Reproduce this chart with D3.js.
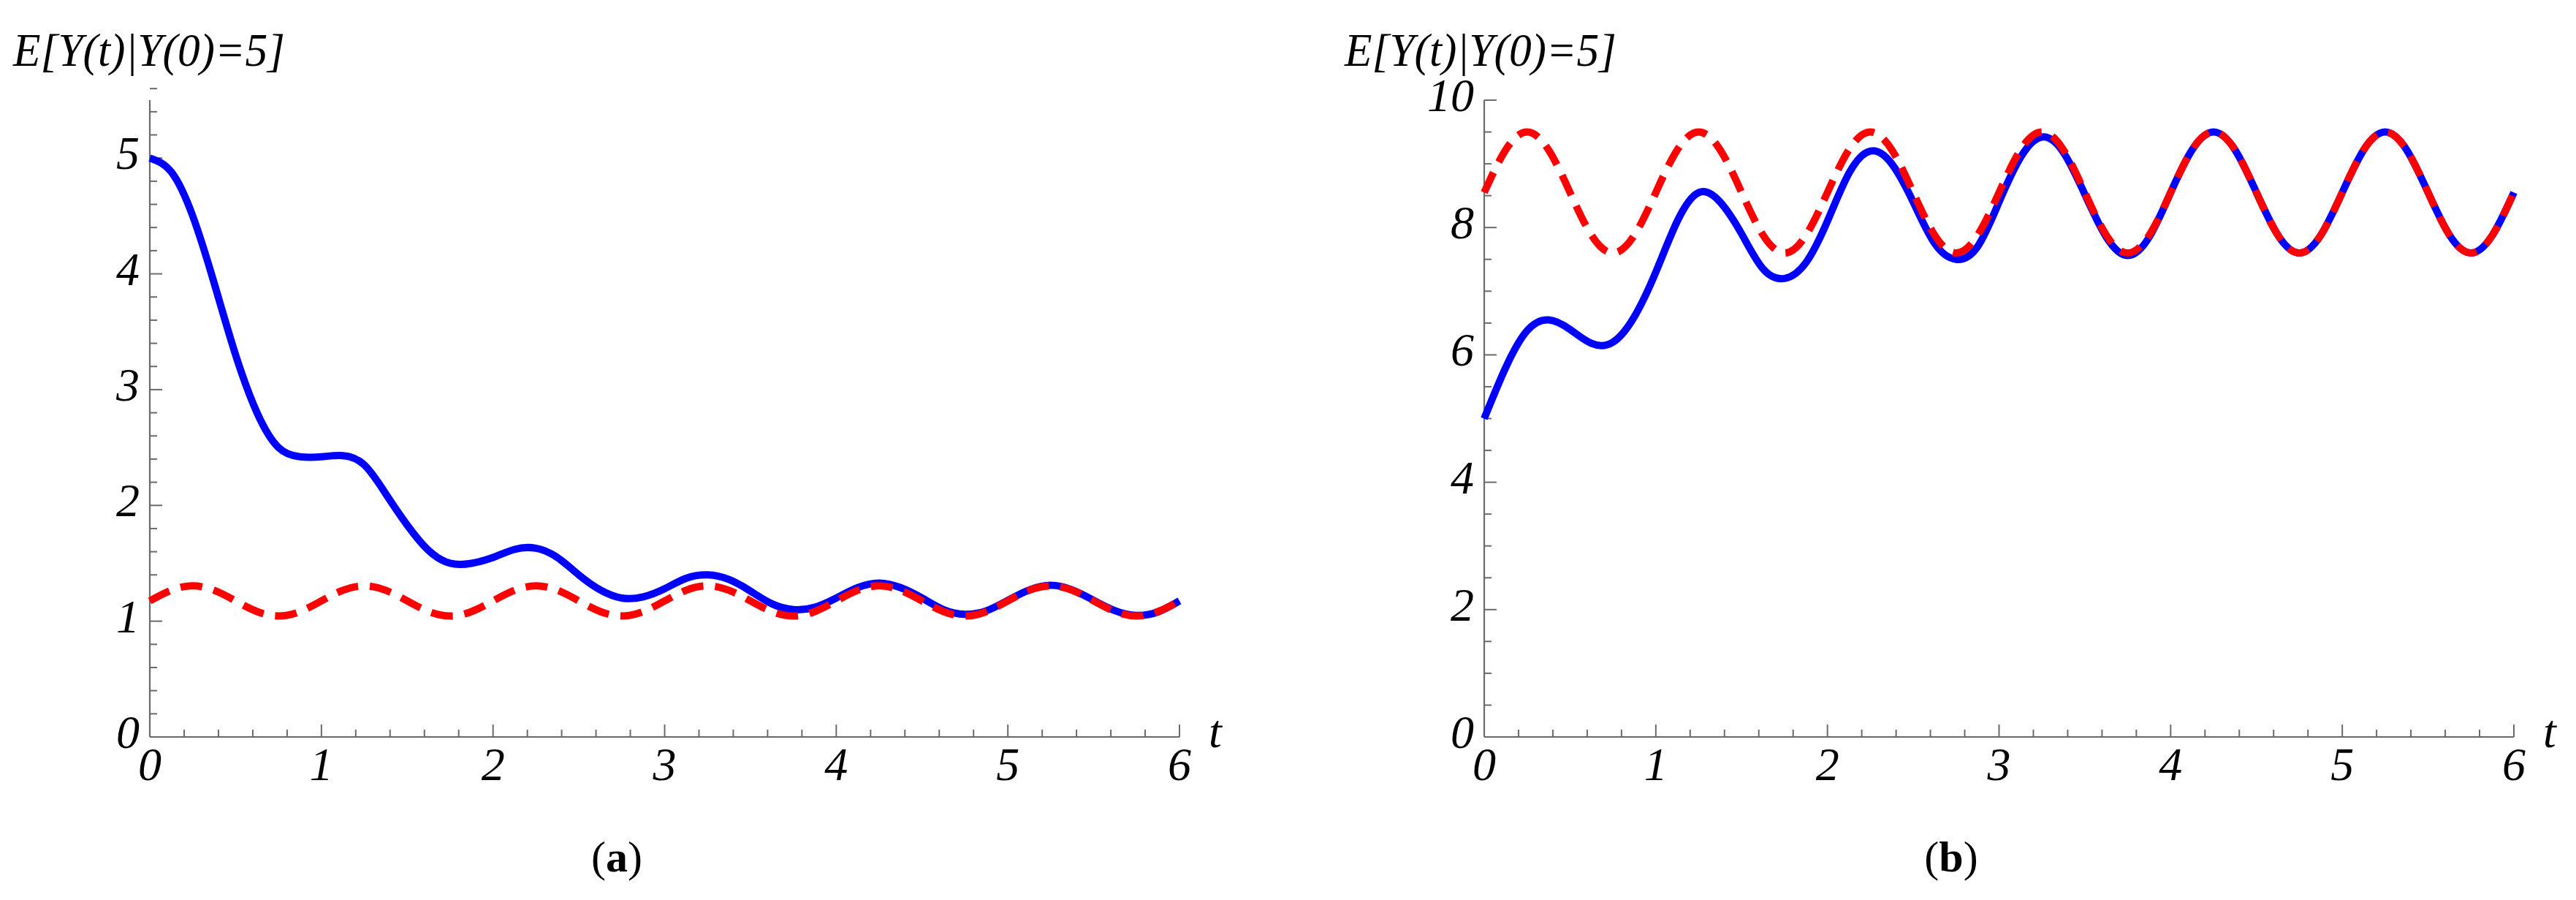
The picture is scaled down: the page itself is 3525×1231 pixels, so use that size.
<!DOCTYPE html>
<html><head><meta charset="utf-8">
<script src="https://cdn.jsdelivr.net/npm/d3@7"></script>
<style>body{margin:0;background:#fff}svg{display:block}text{font-family:"Liberation Serif","Times New Roman",Times,serif}</style>
</head><body>
<script>
const tValues = [0,0.125,0.25,0.375,0.5,0.625,0.75,0.875,1,1.125,1.25,1.375,1.5,1.625,1.75,1.875,2,2.125,2.25,2.375,2.5,2.625,2.75,2.875,3,3.125,3.25,3.375,3.5,3.625,3.75,3.875,4,4.125,4.25,4.375,4.5,4.625,4.75,4.875,5,5.125,5.25,5.375,5.5,5.625,5.75,5.875,6];
const blueA = [5.0,4.88,4.5,3.92,3.3,2.8,2.5,2.42,2.42,2.43,2.35,2.1,1.83,1.61,1.5,1.5,1.55,1.62,1.63,1.55,1.4,1.27,1.2,1.21,1.28,1.37,1.4,1.36,1.26,1.15,1.1,1.12,1.2,1.29,1.33,1.29,1.2,1.1,1.06,1.09,1.18,1.27,1.31,1.27,1.18,1.09,1.05,1.08,1.175];
const redA = [1.175,1.267,1.305,1.267,1.175,1.083,1.045,1.083,1.175,1.267,1.305,1.267,1.175,1.083,1.045,1.083,1.175,1.267,1.305,1.267,1.175,1.083,1.045,1.083,1.175,1.267,1.305,1.267,1.175,1.083,1.045,1.083,1.175,1.267,1.305,1.267,1.175,1.083,1.045,1.083,1.175,1.267,1.305,1.267,1.175,1.083,1.045,1.083,1.175];
const blueB = [5.0,5.8,6.38,6.55,6.4,6.18,6.2,6.6,7.3,8.1,8.55,8.4,7.9,7.35,7.2,7.45,8.1,8.85,9.2,9.0,8.4,7.75,7.5,7.7,8.4,9.1,9.42,9.18,8.52,7.85,7.56,7.85,8.55,9.22,9.5,9.22,8.55,7.88,7.6,7.88,8.55,9.22,9.5,9.22,8.55,7.88,7.6,7.88,8.55];
const redB = [8.55,9.22,9.5,9.22,8.55,7.88,7.6,7.88,8.55,9.22,9.5,9.22,8.55,7.88,7.6,7.88,8.55,9.22,9.5,9.22,8.55,7.88,7.6,7.88,8.55,9.22,9.5,9.22,8.55,7.88,7.6,7.88,8.55,9.22,9.5,9.22,8.55,7.88,7.6,7.88,8.55,9.22,9.5,9.22,8.55,7.88,7.6,7.88,8.55];
const xTicks = [0,1,2,3,4,5,6];
const yTicksA = [0,1,2,3,4,5];
const yTicksB = [0,2,4,6,8,10];
const yTitle = "E[Y(t)|Y(0)=5]";

const W=3525,H=1231;
const svg=d3.select("body").append("svg").attr("width",W).attr("height",H);

function panel(cfg){
  const g=svg.append("g");
  const x=d3.scaleLinear().domain([0,6]).range([cfg.x0,cfg.x0+1409]);
  const y=d3.scaleLinear().domain([0,cfg.ymax]).range([1008,137]);
  const ax="#6a6a6a";
  g.append("line").attr("x1",x(0)).attr("x2",x(6)).attr("y1",y(0)).attr("y2",y(0)).attr("stroke",ax).attr("stroke-width",2.2);
  g.append("line").attr("x1",x(0)).attr("x2",x(0)).attr("y1",y(0)).attr("y2",137).attr("stroke",ax).attr("stroke-width",2.2);
  const xMinor=d3.range(0,6.0001,0.2);
  g.selectAll(".xt").data(xMinor).join("line")
   .attr("x1",d=>x(d)).attr("x2",d=>x(d)).attr("y1",y(0))
   .attr("y2",d=>Math.abs(d-Math.round(d))<1e-6?y(0)-17:y(0)-10)
   .attr("stroke",ax).attr("stroke-width",2);
  const yMinor=d3.range(0,cfg.ymax+cfg.ystep/2+1e-6,cfg.ystep);
  g.selectAll(".yt").data(yMinor).join("line")
   .attr("y1",d=>y(d)).attr("y2",d=>y(d)).attr("x1",x(0))
   .attr("x2",d=>cfg.yTicks.some(v=>Math.abs(v-d)<1e-6)?x(0)+17:x(0)+10)
   .attr("stroke",ax).attr("stroke-width",2);
  g.selectAll(".xl").data(xTicks).join("text")
   .attr("x",d=>x(d)).attr("y",1067).attr("text-anchor","middle")
   .attr("font-size",64).attr("font-style","italic").text(d=>d);
  g.selectAll(".yl").data(cfg.yTicks).join("text")
   .attr("x",x(0)-14).attr("y",d=>y(d)+15).attr("text-anchor","end")
   .attr("font-size",64).attr("font-style","italic").text(d=>d);
  g.append("text").attr("x",x(6)+49).attr("y",1022).attr("text-anchor","middle")
   .attr("font-size",64).attr("font-style","italic").text("t");
  g.append("text").attr("x",cfg.titleX).attr("y",90).attr("font-size",64)
   .attr("font-style","italic").attr("textLength",372).attr("lengthAdjust","spacingAndGlyphs").text(yTitle);
  const lab=g.append("text").attr("x",x(0)+639).attr("y",1192).attr("text-anchor","middle").attr("font-size",60);
  lab.append("tspan").text("(");
  lab.append("tspan").attr("font-weight","bold").text(cfg.label);
  lab.append("tspan").text(")");
  const line=d3.line().x((d,i)=>x(tValues[i])).y(d=>y(d)).curve(d3.curveNatural);
  g.append("path").attr("d",line(cfg.blue)).attr("fill","none").attr("stroke","#0000ff").attr("stroke-width",10);
  g.append("path").attr("d",line(cfg.red)).attr("fill","none").attr("stroke","#ff0000").attr("stroke-width",10).attr("stroke-dasharray","30,16");
}
panel({x0:205,ymax:5.5,ystep:0.2,yTicks:yTicksA,blue:blueA,red:redA,label:"a",titleX:18});
panel({x0:2031,ymax:10,ystep:0.5,yTicks:yTicksB,blue:blueB,red:redB,label:"b",titleX:1840});
</script>
</body></html>
